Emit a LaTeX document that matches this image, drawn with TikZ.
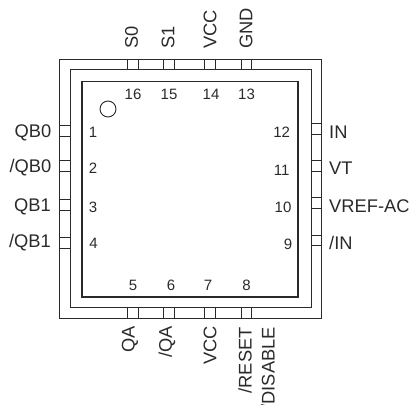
\documentclass[tikz,border=0pt]{standalone}
\usepackage{fontspec}
\setmainfont{Liberation Sans}
\definecolor{ink}{HTML}{2A2A2A}
\tikzset{
 pkg/.style={draw=ink,line width=0.9pt,fill=none},
 die/.style={draw=ink,line width=1.25pt,fill=none},
 tab/.style={draw=ink,line width=0.9pt},
 pinl/.style={font=\fontsize{18.3}{18.3}\selectfont,text=ink,inner sep=0pt},
 num/.style={font=\fontsize{15}{15}\selectfont,text=ink,inner sep=0pt},
}
\begin{document}
\begin{tikzpicture}[x=1pt,y=-1pt]
\useasboundingbox (0,0) rectangle (409,404);
% package
\draw[pkg] (59.5,59.5) rectangle (321.5,318);
\draw[pkg] (70.5,69.5) rectangle (311.5,307.5);
\draw[die] (82,81.5) rectangle (298,297);
\draw[pkg] (108,109) circle (8);
% top and bottom tabs
\foreach \a/\b in {127.5/138.5,163.5/174.5,204.5/215.5,241.3/251.3}{
  \draw[tab] (\a,59.5) -- (\a,69.5) (\b,59.5) -- (\b,69.5);
  \draw[tab] (\a,307.5) -- (\a,318) (\b,307.5) -- (\b,318);
}
% left tabs
\foreach \a/\b in {125.5/136,160.5/171.5,199/210,237.3/248.3}{
  \draw[tab] (59.5,\a) -- (70.5,\a) (59.5,\b) -- (70.5,\b);
}
% right tabs
\foreach \a/\b in {123.3/134.3,160.3/171.5,197/208.3,235/245}{
  \draw[tab] (311.5,\a) -- (321.5,\a) (311.5,\b) -- (321.5,\b);
}
% top labels
\node[pinl,rotate=90,anchor=west] (s0) at (131.5,49) {S0};
\node[pinl,rotate=90,anchor=west] (s1) at (168,49) {S1};
\node[pinl,rotate=90,anchor=west] (vcct) at (210,49) {VCC};
\node[pinl,rotate=90,anchor=west] (gnd) at (246,49) {GND};
% bottom labels
\node[pinl,rotate=90,anchor=east] (qa) at (130,326) {QA};
\node[pinl,rotate=90,anchor=east] (nqa) at (167,326) {/QA};
\node[pinl,rotate=90,anchor=east] (vccb) at (210,326) {VCC};
\node[pinl,rotate=90,anchor=east] (rst) at (245,327) {/RESET};
\node[pinl,rotate=90,anchor=east] (dis) at (268,327) {/DISABLE};
% left labels
\node[pinl,anchor=east] (qb0) at (51.5,133) {QB0};
\node[pinl,anchor=east] (nqb0) at (51.5,168) {/QB0};
\node[pinl,anchor=east] (qb1) at (51,207) {QB1};
\node[pinl,anchor=east] (nqb1) at (51,243) {/QB1};
% right labels
\node[pinl,anchor=west] (in) at (329,132) {IN};
\node[pinl,anchor=west] (vt) at (329,168) {VT};
\node[pinl,anchor=west] (vref) at (329,206) {VREF-AC};
\node[pinl,anchor=west] (nin) at (329,243) {/IN};
% pin numbers
\node[num] (n1) at (93,132.5) {1};
\node[num] (n2) at (93,168.5) {2};
\node[num] (n3) at (93,207) {3};
\node[num] (n4) at (93.5,243) {4};
\node[num] (n5) at (133,285.5) {5};
\node[num] (n6) at (171,285.5) {6};
\node[num] (n7) at (208,285.5) {7};
\node[num] (n8) at (246.5,285.5) {8};
\node[num] (n9) at (288,244) {9};
\node[num] (n10) at (283,207) {10};
\node[num] (n11) at (281.7,170.5) {11};
\node[num] (n12) at (281.7,132.5) {12};
\node[num] (n13) at (246.5,94) {13};
\node[num] (n14) at (211,94) {14};
\node[num] (n15) at (169,94) {15};
\node[num] (n16) at (133,94) {16};
\end{tikzpicture}
\end{document}
